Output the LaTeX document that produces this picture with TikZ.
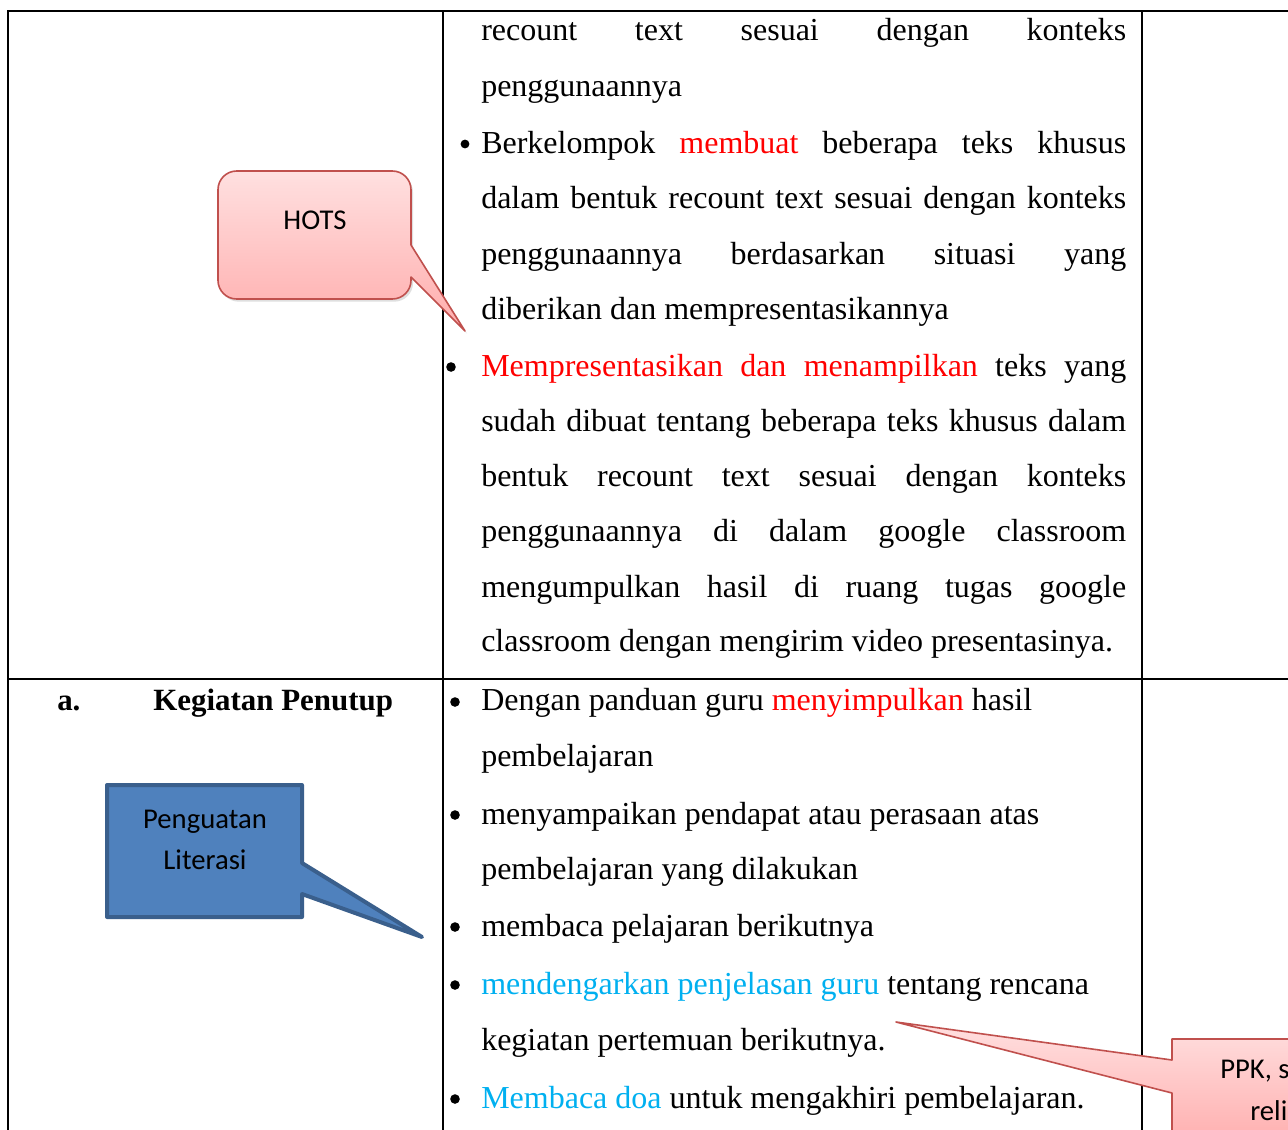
\documentclass[tikz,border=0pt]{standalone}
\usepackage{fontspec}
\setmainfont{Liberation Serif}
\newfontfamily\callfont{Carlito}
\usetikzlibrary{shadows}
\definecolor{redw}{HTML}{FF0000}
\definecolor{cyanw}{HTML}{00B0F0}
\definecolor{hotsborder}{HTML}{C0504D}
\definecolor{hotstop}{HTML}{FFE0E0}
\definecolor{hotsbot}{HTML}{FFACAC}
\definecolor{bluefill}{HTML}{4F81BD}
\definecolor{blueborder}{HTML}{3A5F8C}
\newcommand\jline[1]{\makebox[483.75pt][s]{#1}}
\newcommand\rw[1]{\textcolor{redw}{#1}}
\newcommand\cw[1]{\textcolor{cyanw}{#1}}
\tikzset{
  body/.style={font=\fontsize{24}{28}\selectfont, anchor=base west, inner sep=0pt},
  bodybold/.style={body, font=\fontsize{23.2}{28}\selectfont\bfseries},
  bul/.style={fill=black, draw=none},
  calltext/.style={font=\callfont\fontsize{21.5}{26}\selectfont, inner sep=0pt},
  tabline/.style={line width=1.5pt, black},
  pinkcall/.style={draw=hotsborder, line width=1.2pt, top color=hotstop, bottom color=hotsbot, line join=round},
  bluecall/.style={draw=blueborder, fill=bluefill, line width=3pt, line join=round}
}
\begin{document}
\begin{tikzpicture}[x=0.75pt, y=-0.75pt]
\useasboundingbox (0,0) rectangle (1288,1129);
\clip (0,0) rectangle (1288,1129);
\fill[white] (0,0) rectangle (1288,1129);
% table
\draw[tabline] (8,1140) -- (8,11) -- (1300,11);
\draw[tabline] (443,11) -- (443,1140);
\draw[tabline] (1142,11) -- (1142,1140);
\draw[tabline] (8,679) -- (1300,679);
% row 1 text
\node[body] (l1) at (481,40) {\jline{recount text sesuai dengan konteks}};
\node[body] (l2) at (481,96) {penggunaannya};
\fill[bul] (465,144) circle[radius=3.3pt];
\node[body] (l3) at (481,153) {\jline{Berkelompok \rw{membuat} beberapa teks khusus}};
\node[body] (l4) at (481,208) {\jline{dalam bentuk recount text sesuai dengan konteks}};
\node[body] (l5) at (481,264) {\jline{penggunaannya berdasarkan situasi yang}};
\node[body] (l6) at (481,319) {diberikan dan mempresentasikannya};
\fill[bul] (451,367) circle[radius=3.6pt];
\node[body] (l7) at (481,376) {\jline{\rw{Mempresentasikan dan menampilkan} teks yang}};
\node[body] (l8) at (481,431) {\jline{sudah dibuat tentang beberapa teks khusus dalam}};
\node[body] (l9) at (481,486) {\jline{bentuk recount text sesuai dengan konteks}};
\node[body] (l10) at (481,541) {\jline{penggunaannya di dalam google classroom}};
\node[body] (l11) at (481,597) {\jline{mengumpulkan hasil di ruang tugas google}};
\node[body] (l12) at (481,651) {classroom dengan mengirim video presentasinya.};
% row 2 left
\node[bodybold] (a) at (57,710) {a.};
\node[bodybold] (kp) at (153,710) {Kegiatan Penutup};
% row 2 text
\fill[bul] (455,702) circle[radius=3.6pt];
\node[body] (m1) at (481,710) {Dengan panduan guru \rw{menyimpulkan} hasil};
\node[body] (m2) at (481,766) {pembelajaran};
\fill[bul] (455,815) circle[radius=3.6pt];
\node[body] (m3) at (481,824) {menyampaikan pendapat atau perasaan atas};
\node[body] (m4) at (481,879) {pembelajaran yang dilakukan};
\fill[bul] (455,927) circle[radius=3.6pt];
\node[body] (m5) at (481,936) {membaca pelajaran berikutnya};
\fill[bul] (455,985) circle[radius=3.6pt];
\node[body] (m6) at (481,994) {\cw{mendengarkan penjelasan guru} tentang rencana};
\node[body] (m7) at (481,1050) {kegiatan pertemuan berikutnya.};
\fill[bul] (455,1099) circle[radius=3.6pt];
\node[body] (m8) at (481,1108) {\cw{Membaca doa} untuk mengakhiri pembelajaran.};
% HOTS callout
\path[pinkcall, drop shadow={opacity=0.25, shadow xshift=1.5pt, shadow yshift=-2pt}]
  (411,245) -- (465,331) -- (411,277) [rounded corners=14pt] -- (411,299) -- (218,299) -- (218,171) -- (411,171) [sharp corners] -- cycle;
\node[calltext] (hots) at (315,220) {HOTS};
% Penguatan Literasi callout
\path[bluecall] (302,863) -- (422,937) -- (302,894) -- (302,917) -- (107,917) -- (107,785) -- (302,785) -- cycle;
\node[calltext, anchor=base] (pl1) at (205,828) {Penguatan};
\node[calltext, anchor=base] (pl2) at (205,869) {Literasi};
% PPK callout
\path[pinkcall] (1172,1039) -- (1310,1039) -- (1310,1150) -- (1172,1150) -- (1172,1093) -- (896,1022) -- (1172,1060) -- cycle;
\node[calltext, anchor=base west] (ppk1) at (1220,1078) {PPK, sikap};
\node[calltext, anchor=base west] (ppk2) at (1250,1120) {religius};
\end{tikzpicture}
\end{document}
